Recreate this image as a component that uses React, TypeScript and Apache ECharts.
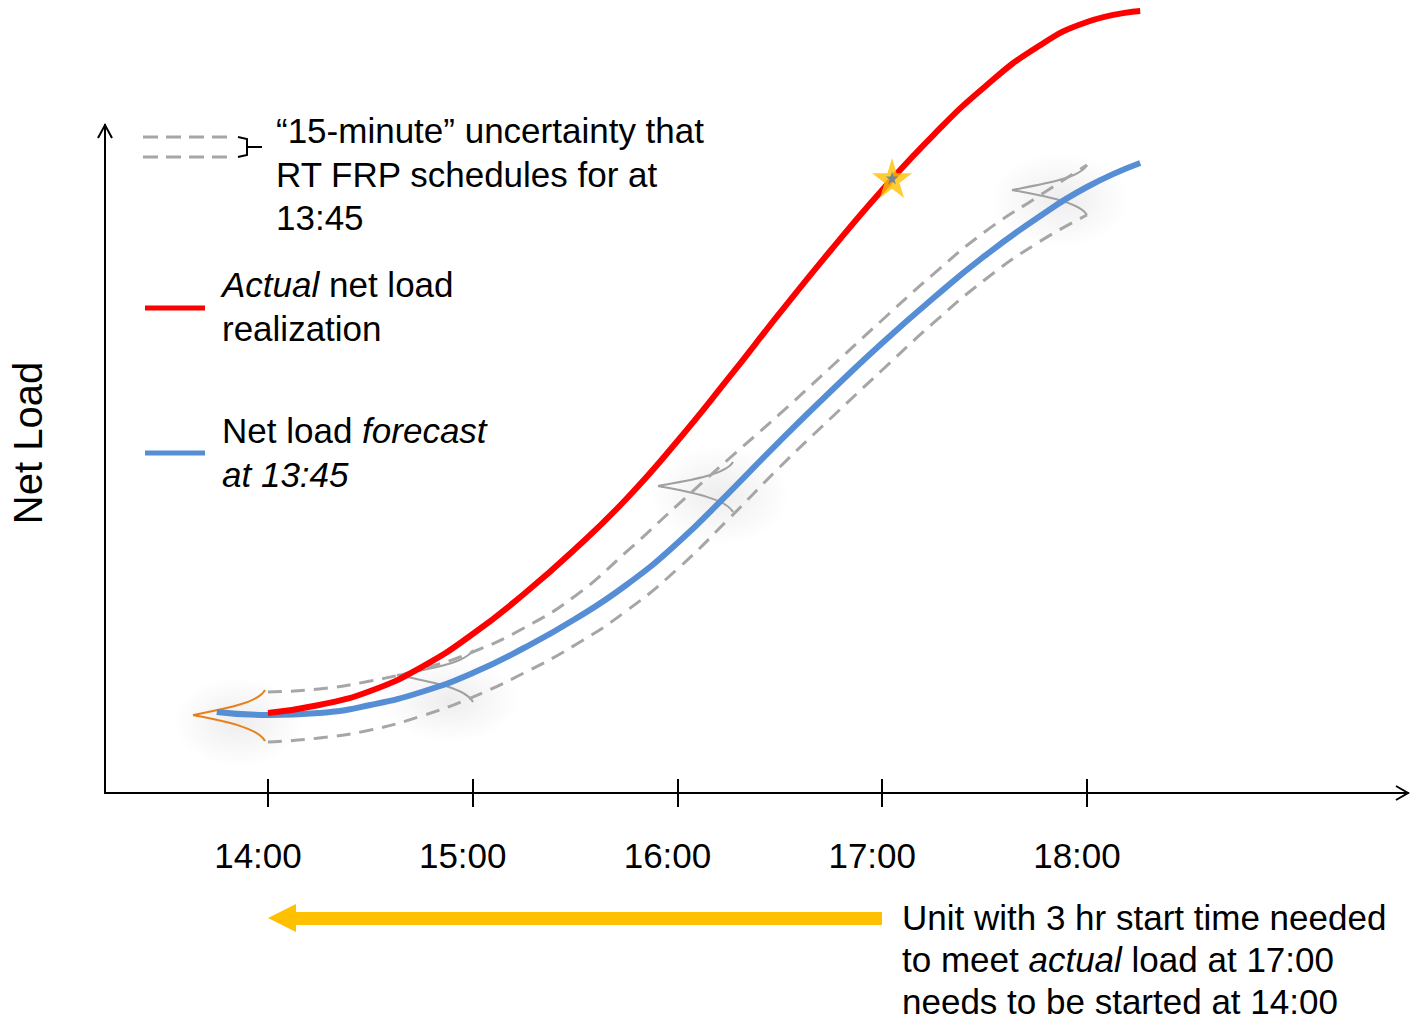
import React, { useEffect, useRef } from "react";
import * as echarts from "echarts";

// x = hour of day, y = net load (arbitrary units, 0..100 at the y-axis arrow)
const hourTicks = [14, 15, 16, 17, 18];
const actualLoad: [number, number][] = [
  [14.0, 11.98], [14.25, 13.17], [14.5, 15.27], [14.75, 18.86], [15.0, 23.8],
  [15.25, 29.79], [15.5, 36.53], [15.75, 44.01], [16.0, 52.69], [16.25, 62.13],
  [16.5, 71.86], [16.75, 81.29], [17.0, 90.27], [17.25, 98.5], [17.5, 105.69],
  [17.75, 111.53], [18.0, 115.42], [18.26, 117.07],
];
const forecastLoad: [number, number][] = [
  [13.75, 12.13], [14.0, 11.68], [14.25, 11.98], [14.5, 13.17], [14.75, 15.12],
  [15.0, 17.96], [15.25, 21.71], [15.5, 26.05], [15.75, 31.14], [16.0, 37.43],
  [16.25, 44.91], [16.5, 52.69], [16.75, 60.18], [17.0, 67.37], [17.25, 74.1],
  [17.5, 80.39], [17.75, 85.93], [18.0, 90.72], [18.26, 94.31],
];
const upperBand: [number, number][] = [
  [14.0, 15.12], [14.25, 15.57], [14.5, 16.77], [14.75, 18.56], [15.0, 21.11],
  [15.25, 24.7], [15.5, 29.49], [15.75, 36.08], [16.0, 43.11], [16.25, 50.0],
  [16.5, 56.74], [16.75, 63.77], [17.0, 70.81], [17.25, 77.69], [17.5, 83.98],
  [17.75, 89.07], [18.0, 94.01],
];
const lowerBand: [number, number][] = [
  [14.0, 7.63], [14.25, 8.23], [14.5, 9.43], [14.75, 11.53], [15.0, 14.37],
  [15.25, 17.96], [15.5, 22.16], [15.75, 27.25], [16.0, 33.53], [16.25, 41.02],
  [16.5, 48.8], [16.75, 56.14], [17.0, 63.32], [17.25, 70.36], [17.5, 76.8],
  [17.75, 82.19], [18.0, 86.53],
];
const starPoint: [number, number][] = [[17.048, 92.07]];
const noteLines = ["Unit with 3 hr start time needed", "to meet {i|actual} load at 17:00", "needs to be started at 14:00"];

const FONT = "'Liberation Sans', Arial, Helvetica, sans-serif";
const STAR = "path://M50,0 L61,35 L98,35 L68,57 L79,91 L50,70 L21,91 L32,57 L2,35 L39,35 Z";

function bell(bx: number, top: number, bottom: number, px: number, py: number, color: string, w = 2) {
  const A = bx - px;
  const mk = (y0: number) => ({
    type: "bezierCurve",
    z: 1,
    silent: true,
    shape: {
      x1: bx, y1: y0,
      cpx1: bx - 0.1 * A, cpy1: y0 + 0.55 * (py - y0),
      cpx2: px + 0.35 * A, cpy2: py - 0.2 * (py - y0),
      x2: px, y2: py,
    },
    style: { stroke: color, lineWidth: w, fill: "none" },
  });
  return [mk(top), mk(bottom)];
}

function glow(cx: number, cy: number, rx: number, ry: number) {
  return {
    type: "ellipse",
    z: 0,
    silent: true,
    shape: { cx, cy, rx, ry },
    style: {
      fill: new echarts.graphic.RadialGradient(0.5, 0.5, 0.5, [
        { offset: 0, color: "rgba(0,0,0,0.07)" },
        { offset: 1, color: "rgba(0,0,0,0)" },
      ]),
    },
  };
}

const textBase = { fontSize: 35, fontFamily: FONT, fill: "#000", lineHeight: 43.5 };
const italic = { fontStyle: "italic", fontSize: 35, fontFamily: FONT, lineHeight: 43.5, fill: "#000" };

export default function App() {
  const ref = useRef<HTMLDivElement>(null);
  useEffect(() => {
    if (!ref.current) return;
    const chart = echarts.init(ref.current, null, { renderer: "svg" });
    const axisCommon = {
      type: "value",
      min: 13.204,
      max: 19.568,
      position: "bottom",
      offset: 0,
      splitLine: { show: false },
    };
    const lineCommon = { type: "line", smooth: 0.5, symbol: "none", clip: false };
    const noteCenters = [917, 959, 1001];
    chart.setOption({
      animation: false,
      backgroundColor: "#fff",
      grid: { left: 105, right: 2, top: 125, bottom: 228, containLabel: false },
      xAxis: [
        {
          ...axisCommon,
          axisLine: { show: true, lineStyle: { color: "#000", width: 2 } },
          axisTick: { show: true, inside: true, length: 14, customValues: hourTicks, lineStyle: { color: "#000", width: 2 } },
          axisLabel: {
            show: true,
            customValues: hourTicks,
            formatter: (v: number) => `${v}:00`,
            fontSize: 35,
            fontFamily: FONT,
            color: "#000",
            margin: 62,
            verticalAlign: "middle",
            padding: [0, 20, 0, 0],
          },
        },
        {
          ...axisCommon,
          axisLine: { show: false },
          axisTick: { show: true, inside: false, length: 14, customValues: hourTicks, lineStyle: { color: "#000", width: 2 } },
          axisLabel: { show: false },
        },
      ],
      yAxis: {
        type: "value",
        min: 0,
        max: 100,
        axisLine: { show: true, lineStyle: { color: "#000", width: 2 } },
        axisTick: { show: false },
        axisLabel: { show: false },
        splitLine: { show: false },
      },
      series: [
        { ...lineCommon, data: upperBand, lineStyle: { color: "#A6A6A6", width: 3, type: [14, 9] }, z: 2 },
        { ...lineCommon, data: lowerBand, lineStyle: { color: "#A6A6A6", width: 3, type: [14, 9] }, z: 2 },
        { ...lineCommon, data: forecastLoad, lineStyle: { color: "#558ED5", width: 6 }, z: 3 },
        { ...lineCommon, data: actualLoad, lineStyle: { color: "#FF0000", width: 6 }, z: 4 },
        { type: "scatter", data: starPoint, symbol: STAR, symbolSize: 40, z: 5, itemStyle: { color: "#FFC000" } },
        { type: "scatter", data: starPoint, symbol: STAR, symbolSize: 13, z: 6, itemStyle: { color: "#4F81BD" } },
      ],
      graphic: [
        glow(238, 722, 65, 45),
        glow(450, 700, 70, 42),
        glow(720, 495, 70, 50),
        glow(1060, 200, 70, 48),
        ...bell(265, 690, 741, 193, 715, "#E8801A", 2),
        ...bell(473, 650, 702, 397, 675, "#A0A0A0", 2),
        ...bell(733, 462, 512, 658, 486, "#A0A0A0", 2),
        ...bell(1087, 165, 215, 1012, 190, "#A0A0A0", 2),
        // axis arrow heads
        { type: "polyline", z: 10, shape: { points: [[98, 138], [105, 125], [112, 138]] }, style: { stroke: "#000", lineWidth: 2, fill: "none" } },
        { type: "polyline", z: 10, shape: { points: [[1396, 786], [1408, 793], [1396, 800]] }, style: { stroke: "#000", lineWidth: 2, fill: "none" } },
        // y-axis title
        {
          type: "text", x: 28, y: 443, rotation: Math.PI / 2,
          style: { text: "Net Load", fontSize: 40, fontFamily: FONT, fill: "#000", align: "center", verticalAlign: "middle" },
        },
        // legend: uncertainty band
        { type: "line", shape: { x1: 143, y1: 137, x2: 232, y2: 137 }, style: { stroke: "#A6A6A6", lineWidth: 3, lineDash: [15, 8] } },
        { type: "line", shape: { x1: 143, y1: 157, x2: 232, y2: 157 }, style: { stroke: "#A6A6A6", lineWidth: 3, lineDash: [15, 8] } },
        { type: "polyline", shape: { points: [[238, 137], [247, 139], [247, 155], [238, 157]] }, style: { stroke: "#000", lineWidth: 2, fill: "none" } },
        { type: "line", shape: { x1: 247, y1: 147, x2: 262, y2: 147 }, style: { stroke: "#000", lineWidth: 2 } },
        {
          type: "text", x: 276, y: 109,
          style: { ...textBase, text: "“15-minute” uncertainty that\nRT FRP schedules for at\n13:45", align: "left", verticalAlign: "top" },
        },
        // legend: actual
        { type: "line", shape: { x1: 145, y1: 308, x2: 205, y2: 308 }, style: { stroke: "#FF0000", lineWidth: 5 } },
        {
          type: "text", x: 222, y: 263,
          style: { ...textBase, align: "left", verticalAlign: "top", text: "{i|Actual} net load\nrealization", rich: { i: italic } },
        },
        // legend: forecast
        { type: "line", shape: { x1: 145, y1: 453, x2: 205, y2: 453 }, style: { stroke: "#558ED5", lineWidth: 5 } },
        {
          type: "text", x: 222, y: 409,
          style: { ...textBase, align: "left", verticalAlign: "top", text: "Net load {i|forecast}\n{i|at 13:45}", rich: { i: italic } },
        },
        // yellow arrow
        {
          type: "polygon",
          shape: { points: [[882, 912], [296, 912], [296, 904], [268, 918], [296, 932], [296, 925], [882, 925]] },
          style: { fill: "#FFC000" },
        },
        ...noteLines.map((t, k) => ({
          type: "text", x: 902, y: noteCenters[k],
          style: {
            ...textBase, lineHeight: 32, align: "left", verticalAlign: "middle",
            text: t,
            rich: { i: { ...italic, lineHeight: 32 } },
          },
        })),
      ],
    });
    return () => chart.dispose();
  }, []);
  return <div ref={ref} style={{ position: "absolute", left: 0, top: 0, width: 1410, height: 1021 }} />;
}
